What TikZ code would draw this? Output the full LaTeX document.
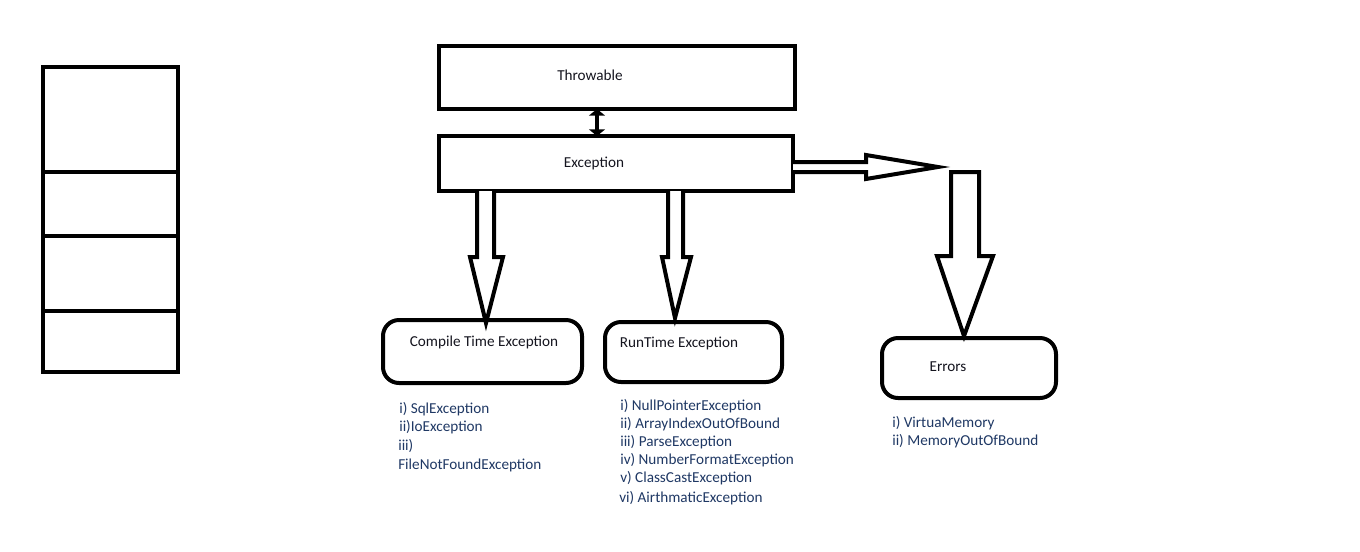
\documentclass[tikz,border=0pt]{standalone}
\usepackage{fontspec}
\setmainfont{Carlito}
\usetikzlibrary{arrows.meta}
\definecolor{listblue}{RGB}{31,56,100}
\definecolor{boxtext}{RGB}{20,20,30}
\tikzset{
  thick line/.style={line width=3pt, line join=miter},
  sqbox/.style={draw, thick line, rectangle, inner sep=0pt, outer sep=0pt, anchor=north west},
  rbox/.style={draw, thick line, rectangle, rounded corners=12pt, inner sep=0pt, outer sep=0pt, anchor=north west},
  boxlabel/.style={text=boxtext, font=\fontsize{11.4}{13}\selectfont, inner sep=0pt},
  listtext/.style={text=listblue, font=\fontsize{11.4}{13}\selectfont, inner sep=0pt, anchor=west},
  blockarrow/.style={draw, thick line, fill=white},
}
\begin{document}
\begin{tikzpicture}[x=0.75pt, y=-0.75pt]
\useasboundingbox (0,0) rectangle (1360,551);

% stack on the left
\node[sqbox, minimum width=135*0.75pt, minimum height=305*0.75pt] (stack) at (43,67) {};
\coordinate (s1) at (43,172); \coordinate (s2) at (43,236); \coordinate (s3) at (43,311);
\draw[thick line] (s1) -- ++(137,0);
\draw[thick line] (s2) -- ++(137,0);
\draw[thick line] (s3) -- ++(137,0);

% class boxes
\node[sqbox, minimum width=356*0.75pt, minimum height=63*0.75pt] (throwable) at (439,46) {};
\node[boxlabel] (throwableText) at (590,75) {Throwable};
\node[sqbox, minimum width=354*0.75pt, minimum height=55*0.75pt] (exception) at (439,136) {};
\node[boxlabel] (exceptionText) at (594,163) {Exception};

% link between Throwable and Exception
\draw[line width=3pt, {Triangle[width=12pt,length=5pt]}-{Triangle[width=12pt,length=5pt]}]
  (throwable.south -| 597,0) -- (exception.north -| 597,0);

% rounded boxes
\node[rbox, minimum width=199*0.75pt, minimum height=63*0.75pt] (compile) at (383,320) {};
\node[boxlabel] (compileText) at (484,342) {Compile Time Exception};
\node[rbox, minimum width=177*0.75pt, minimum height=60*0.75pt] (runtime) at (605,322) {};
\node[boxlabel] (runtimeText) at (679,343) {RunTime Exception};
\node[rbox, minimum width=174*0.75pt, minimum height=60*0.75pt] (errors) at (882,338) {};
\node[boxlabel] (errorsText) at (948,367) {Errors};

% hollow block arrows
\draw[blockarrow] (477,191) -- (477,257) -- (470,257) -- (486,323) -- (503,257) -- (494,257) -- (494,191);
\draw[blockarrow] (668,191) -- (668,257) -- (662,257) -- (675,318) -- (691,257) -- (683,257) -- (683,191);
\draw[blockarrow] (793,162) -- (866,162) -- (866,155) -- (938,167) -- (866,179) -- (866,172) -- (793,172);
\draw[blockarrow] (951,172) -- (979,172) -- (979,256) -- (993,256) -- (964,336) -- (937,256) -- (951,256) -- cycle;

% lists of examples
\node[listtext] (c1) at (399,409) {i) SqlException};
\node[listtext] (c2) at (399,427) {ii)IoException};
\node[listtext] (c3) at (398,446) {iii)};
\node[listtext] (c4) at (398,465) {FileNotFoundException};

\node[listtext] (r1) at (620,406) {i) NullPointerException};
\node[listtext] (r2) at (620,424) {ii) ArrayIndexOutOfBound};
\node[listtext] (r3) at (620,442) {iii) ParseException};
\node[listtext] (r4) at (620,460) {iv) NumberFormatException};
\node[listtext] (r5) at (620,478) {v) ClassCastException};
\node[listtext] (r6) at (619,498) {vi) AirthmaticException};

\node[listtext] (e1) at (892,423) {i) VirtuaMemory};
\node[listtext] (e2) at (892,441) {ii) MemoryOutOfBound};
\end{tikzpicture}
\end{document}
